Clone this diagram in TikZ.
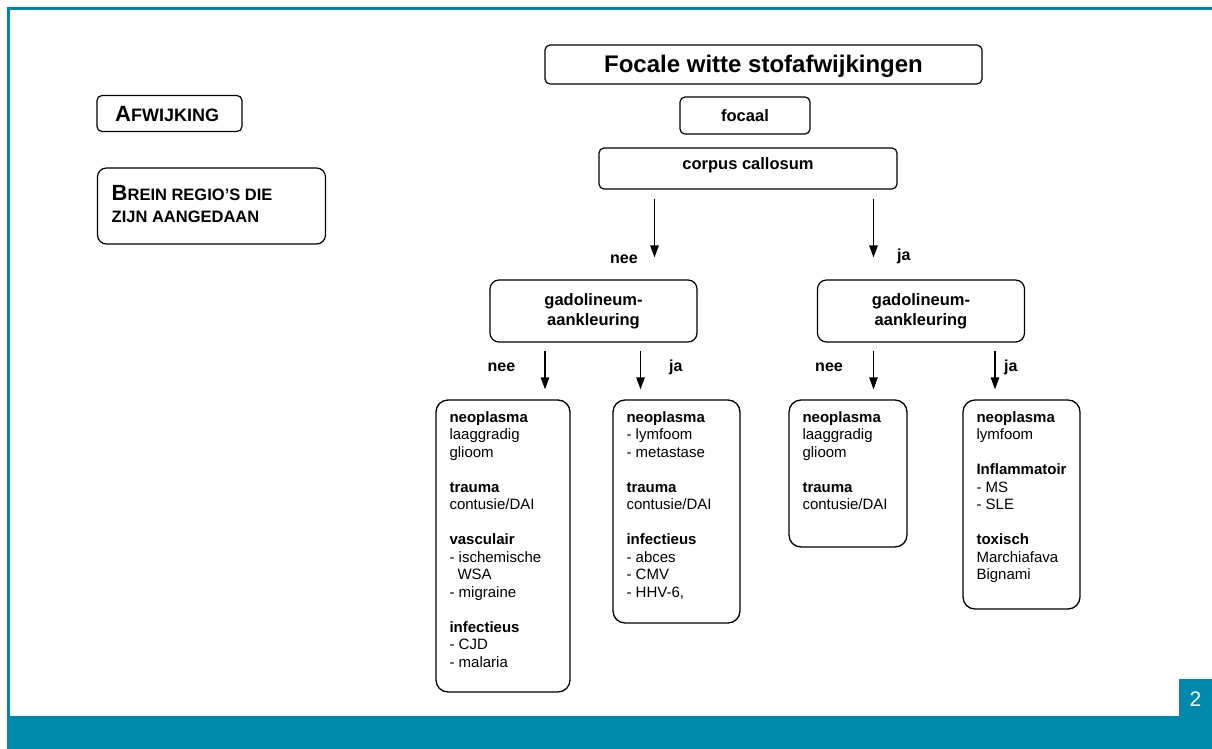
\documentclass[tikz,border=0pt]{standalone}
\usepackage{fontspec}
\setmainfont{Liberation Sans}
\usetikzlibrary{calc,arrows.meta}
\definecolor{frameteal}{RGB}{0,136,170}
\newcommand{\fsz}[1]{\fontsize{#1}{#1}\selectfont}
\begin{document}
\begin{tikzpicture}[x=1pt,y=-1pt,
  box/.style={draw, line width=1.2pt, rounded corners=5pt, inner sep=0pt, text depth=0pt},
  gbox/.style={draw, line width=1.2pt, rounded corners=9pt, inner sep=0pt, align=center,
     font=\fontsize{16.5}{20}\selectfont\bfseries, minimum width=207pt, minimum height=62pt},
  leaf/.style={draw, line width=1.3pt, rounded corners=12pt, inner sep=0pt},
  leaftext/.style={anchor=base west, inner sep=0pt, font=\fontsize{15}{17.5}\selectfont},
  arr/.style={line width=1.3pt, -{Triangle[width=8.5pt,length=12pt]}},
  lbl/.style={anchor=base, inner sep=0pt, font=\fontsize{16}{16}\selectfont\bfseries},
  lblw/.style={anchor=base west, inner sep=0pt, font=\fontsize{16}{16}\selectfont\bfseries},
]
\useasboundingbox (0,0) rectangle (1212,749);
% frame
\fill[frameteal] (7,7) rectangle (1212,10);
\fill[frameteal] (7,7) rectangle (10,716);
\fill[frameteal] (7,716) rectangle (1212,749);
\fill[frameteal] (1179,679) rectangle (1212,716);
\node[text=white, anchor=base, inner sep=0pt, font=\fsz{21}] (pnum) at (1195.5,706.5) {2};

% left legend boxes
\node[draw, line width=1.2pt, rounded corners=5pt, minimum width=145pt, minimum height=36pt] (afw) at (169.5,113.5) {};
\node[anchor=base west, inner sep=0pt, font=\bfseries] (afwt) at (115,122) {{\fsz{22}A}{\fsz{18}FWIJKING}};
\node[draw, line width=1.2pt, rounded corners=9pt, minimum width=228pt, minimum height=76pt] (brein) at (211.5,206) {};
\node[anchor=base west, inner sep=0pt, font=\bfseries] (breint1) at (111.5,200) {{\fsz{22}B}{\fsz{16.5}REIN REGIO’S DIE}};
\node[anchor=base west, inner sep=0pt, font=\bfseries\fsz{16.5}] (breint2) at (111.5,222.5) {ZIJN AANGEDAAN};

% top boxes
\node[box, minimum width=437pt, minimum height=39pt, text height=16pt, font=\fsz{24}\bfseries] (title) at (763.5,64.5) {Focale witte stofafwijkingen};
\node[box, minimum width=130pt, minimum height=37pt, text height=12pt, font=\fsz{16.5}\bfseries] (focaal) at (745,115.5) {focaal};
\node[box, minimum width=298pt, minimum height=41pt, text height=1pt, font=\fsz{16.5}\bfseries] (corpus) at (748,168.5) {corpus callosum};

% gadolineum boxes
\node[gbox] (gadoL) at (593.5,311) {gadolineum-\\aankleuring};
\node[gbox] (gadoR) at (921,311) {gadolineum-\\aankleuring};

% leaf boxes
\node[leaf, minimum width=134pt, minimum height=292pt] (leaf1) at (503,546) {};
\node[leaf, minimum width=127pt, minimum height=223pt] (leaf2) at (676.5,511.5) {};
\node[leaf, minimum width=118pt, minimum height=147pt] (leaf3) at (848,473.5) {};
\node[leaf, minimum width=117pt, minimum height=209pt] (leaf4) at (1021.5,504.5) {};

\node[leaftext] (t1) at ($(leaf1.north west)+(14,23)$) {\begin{tabular}[t]{@{}l@{}}
\textbf{neoplasma}\\ laaggradig\\ glioom\\ \\
\textbf{trauma}\\ contusie/DAI\\ \\
\textbf{vasculair}\\ - ischemische\\ \hspace{8pt}WSA\\ - migraine\\ \\
\textbf{infectieus}\\ - CJD\\ - malaria\end{tabular}};
\node[leaftext] (t2) at ($(leaf2.north west)+(14,23)$) {\begin{tabular}[t]{@{}l@{}}
\textbf{neoplasma}\\ - lymfoom\\ - metastase\\ \\
\textbf{trauma}\\ contusie/DAI\\ \\
\textbf{infectieus}\\ - abces\\ - CMV\\ - HHV-6,\end{tabular}};
\node[leaftext] (t3) at ($(leaf3.north west)+(14,23)$) {\begin{tabular}[t]{@{}l@{}}
\textbf{neoplasma}\\ laaggradig\\ glioom\\ \\
\textbf{trauma}\\ contusie/DAI\end{tabular}};
\node[leaftext] (t4) at ($(leaf4.north west)+(14,23)$) {\begin{tabular}[t]{@{}l@{}}
\textbf{neoplasma}\\ lymfoom\\ \\
\textbf{Inflammatoir}\\ - MS\\ - SLE\\ \\
\textbf{toxisch}\\ Marchiafava\\ Bignami\end{tabular}};

% arrow x positions
\coordinate (xa) at (654.5,0);
\coordinate (xb) at (873.5,0);
\coordinate (xc) at (545,0);
\coordinate (xd) at (640.5,0);
\coordinate (xe) at (873.5,0);
\coordinate (xf) at (995,0);

\draw[arr, shorten <=9pt, shorten >=22pt] (corpus.south -| xa) -- (gadoL.north -| xa);
\draw[arr, shorten <=9pt, shorten >=22pt] (corpus.south -| xb) -- (gadoR.north -| xb);
\draw[arr, shorten <=8pt, shorten >=10pt] (gadoL.south -| xc) -- (leaf1.north -| xc);
\draw[arr, shorten <=8pt, shorten >=10pt] (gadoL.south -| xd) -- (leaf2.north -| xd);
\draw[arr, shorten <=8pt, shorten >=10pt] (gadoR.south -| xe) -- (leaf3.north -| xe);
\draw[arr, shorten <=8pt, shorten >=10pt] (gadoR.south -| xf) -- (leaf4.north -| xf);

% labels
\node[lbl] (l1) at (624,263) {nee};
\node[lblw] (l2) at (897,260) {ja};
\node[lbl] (l3) at (501.5,371) {nee};
\node[lblw] (l4) at (669,371) {ja};
\node[lbl] (l5) at (829,371) {nee};
\node[lblw] (l6) at (1004,371) {ja};
\end{tikzpicture}
\end{document}
